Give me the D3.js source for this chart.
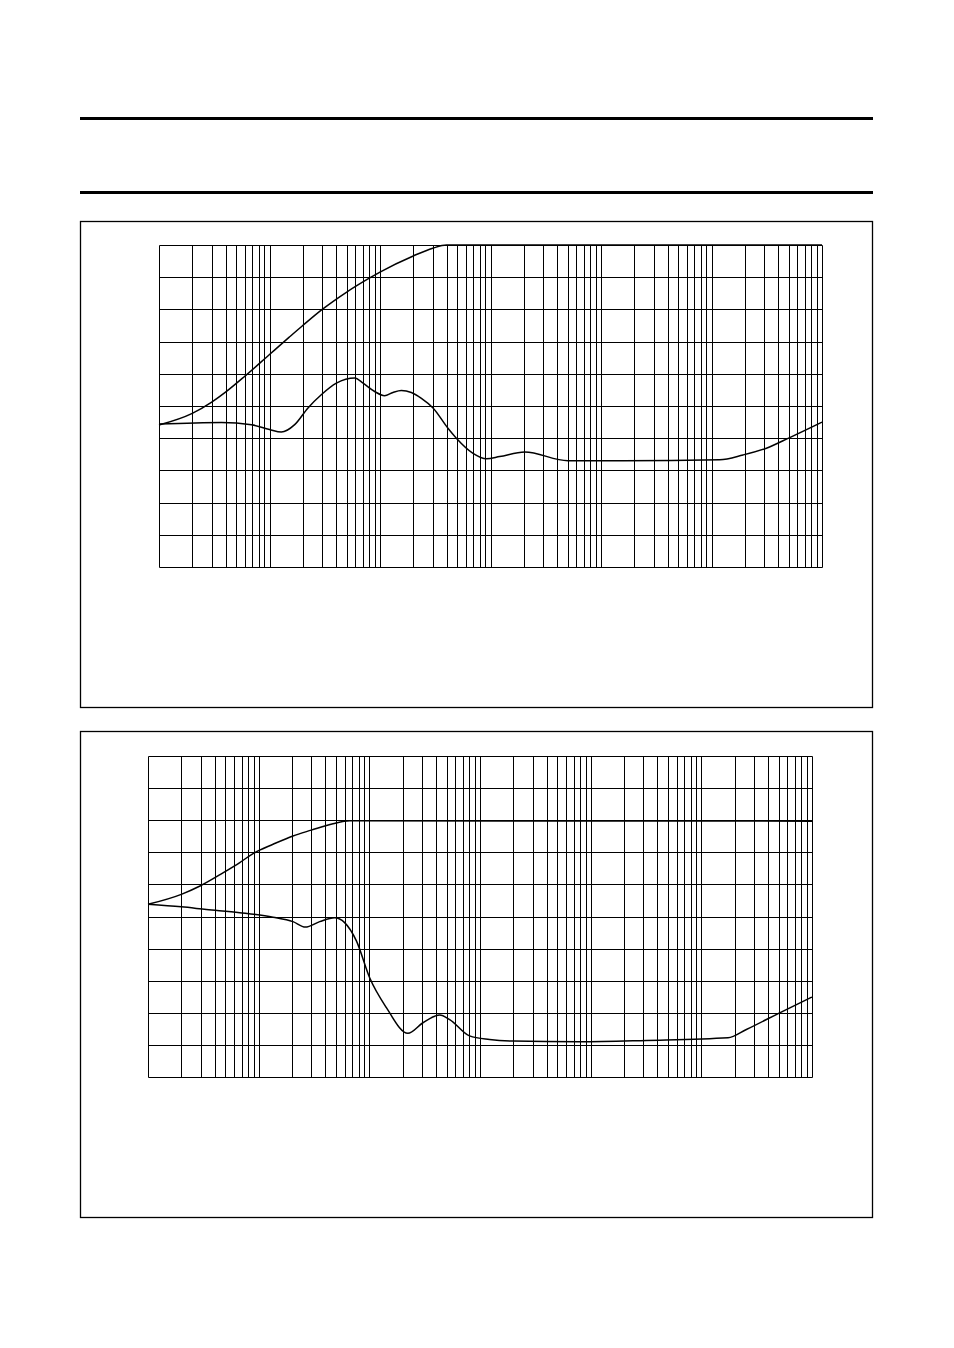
<!DOCTYPE html>
<html lang="en">
<head>
<meta charset="utf-8">
<script src="https://d3js.org/d3.v7.min.js"></script>
<style>
  body { margin: 0; background: #fff; }
  svg { display: block; }
</style>
</head>
<body>
<script>
// frequency axis (log, 6 decades), level axis (10 divisions)
var freqDomain = [1, 1e6];
var levelDomain = [0, 10];

// chart 1
var c1UpperF = [1, 2, 3, 4, 6, 10, 15, 20, 30, 50, 80, 100, 200, 300, 400, 1e6];
var c1UpperV = [4.41, 4.77, 5.12, 5.43, 5.93, 6.60, 7.13, 7.50, 8.00, 8.54, 8.97, 9.16, 9.66, 9.90, 10, 10];
var c1LowerF = [1, 3.67, 6.87, 10, 12.8, 16.9, 22.3, 29.4, 40.3, 59, 70.3, 89.5, 110, 131, 156, 192, 237, 302, 412, 491, 695, 918, 1211, 2042, 5023, 15800, 118600, 192800, 314000, 510500, 1e6];
var c1LowerV = [4.44, 4.49, 4.42, 4.27, 4.19, 4.42, 4.94, 5.35, 5.71, 5.87, 5.71, 5.45, 5.32, 5.42, 5.48, 5.42, 5.24, 4.94, 4.31, 4.00, 3.53, 3.36, 3.43, 3.57, 3.30, 3.30, 3.33, 3.48, 3.69, 4.02, 4.50];

// chart 2
var c2UpperF = [1, 2, 2.95, 4.76, 6.75, 8.9, 13.5, 20.4, 29.9, 47, 66.5, 1e6];
var c2UpperV = [5.38, 5.69, 5.95, 6.36, 6.68, 6.96, 7.25, 7.51, 7.69, 7.89, 7.98, 7.97];
var c2LowerF = [1, 2, 3.37, 6.75, 13.5, 20.4, 26.4, 35.6, 48.6, 59.8, 76.4, 100.7, 142.6, 223, 305, 432, 532, 805, 1219, 1986, 7943, 31840, 174200, 255300, 510500, 1e6];
var c2LowerV = [5.38, 5.30, 5.22, 5.12, 4.98, 4.84, 4.67, 4.84, 4.96, 4.81, 4.24, 3.09, 2.16, 1.36, 1.69, 1.93, 1.79, 1.28, 1.17, 1.12, 1.10, 1.14, 1.22, 1.48, 2.00, 2.49];

var w = 954, h = 1348;

var svg = d3.select("body").append("svg")
  .attr("width", w)
  .attr("height", h);

// page rules
svg.append("rect").attr("x", 80).attr("y", 117).attr("width", 793).attr("height", 3).attr("fill", "#000");
svg.append("rect").attr("x", 80).attr("y", 191).attr("width", 793).attr("height", 3).attr("fill", "#000");

function zip(f, v) {
  return f.map(function(d, i) { return { f: d, v: v[i] }; });
}

function drawChart(box, plot, series) {
  // figure frame
  svg.append("rect")
    .attr("x", box.x + 0.5).attr("y", box.y + 0.5)
    .attr("width", box.w).attr("height", box.h)
    .attr("fill", "none").attr("stroke", "#000").attr("stroke-width", 1.3);

  var x = d3.scaleLog().domain(freqDomain).range([plot.left, plot.right]);
  var y = d3.scaleLinear().domain(levelDomain).range([plot.bottom, plot.top]);

  var g = svg.append("g");

  // vertical grid (1..9 per decade)
  g.selectAll("line.v")
    .data(x.ticks())
    .enter().append("line")
    .attr("class", "v")
    .attr("x1", function(d) { return Math.round(x(d)) + 0.5; })
    .attr("x2", function(d) { return Math.round(x(d)) + 0.5; })
    .attr("y1", plot.top + 0.5)
    .attr("y2", plot.bottom + 0.5)
    .attr("stroke", "#000").attr("stroke-width", 1);

  // horizontal grid
  g.selectAll("line.h")
    .data(y.ticks(10))
    .enter().append("line")
    .attr("class", "h")
    .attr("x1", plot.left + 0.5)
    .attr("x2", plot.right + 0.5)
    .attr("y1", function(d) { return Math.round(y(d)) + 0.5; })
    .attr("y2", function(d) { return Math.round(y(d)) + 0.5; })
    .attr("stroke", "#000").attr("stroke-width", 1);

  var line = d3.line()
    .x(function(d) { return x(d.f); })
    .y(function(d) { return y(d.v); })
    .curve(d3.curveMonotoneX);

  series.forEach(function(s) {
    g.append("path")
      .datum(s)
      .attr("d", line)
      .attr("fill", "none")
      .attr("stroke", "#000")
      .attr("stroke-width", 1.5);
  });
}

drawChart(
  { x: 80, y: 221, w: 792, h: 486 },
  { left: 159, right: 822, top: 245, bottom: 567 },
  [zip(c1UpperF, c1UpperV), zip(c1LowerF, c1LowerV)]
);

drawChart(
  { x: 80, y: 731, w: 792, h: 486 },
  { left: 148, right: 812, top: 756, bottom: 1077 },
  [zip(c2UpperF, c2UpperV), zip(c2LowerF, c2LowerV)]
);
</script>
</body>
</html>
